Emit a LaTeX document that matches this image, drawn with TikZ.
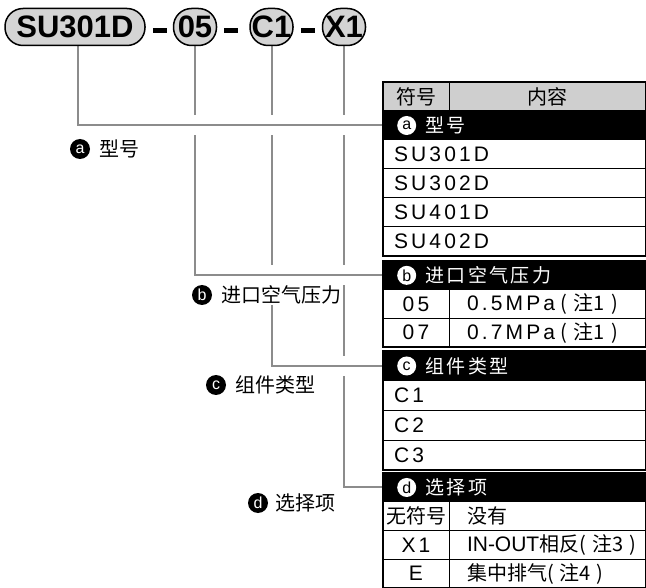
\documentclass[tikz,border=0pt]{standalone}
\usepackage{fontspec}
\setmainfont{Liberation Sans}
\newfontfamily\cjk{Noto Sans CJK SC}
\newfontfamily\cjksp[LetterSpace=12]{Noto Sans CJK SC}
\newfontfamily\latsp[LetterSpace=15]{Liberation Sans}
\newcommand{\zh}{\fontsize{20}{24}\selectfont\cjk}
\usetikzlibrary{positioning, backgrounds}
\definecolor{linegray}{HTML}{8C8C8C}
\definecolor{headgray}{HTML}{CFCFCF}
\definecolor{partgray}{HTML}{D4D4D4}
\tikzset{
  partbox/.style={rectangle, rounded corners=18pt, draw=black, line width=1.5pt, fill=partgray, minimum height=37pt, inner xsep=0pt, font=\fontsize{31}{32}\selectfont\bfseries},
  hyph/.style={line width=5pt, black},
  conn/.style={draw=linegray, line width=2pt, preaction={draw=white, line width=20pt}},
  bmark/.style={circle, fill=black, text=white, inner sep=0pt, minimum size=20pt, font=\fontsize{16}{16}\selectfont},
  wmark/.style={circle, fill=white, text=black, inner sep=0pt, minimum size=19pt, font=\fontsize{16}{16}\selectfont},
  ltext/.style={fill=white, inner xsep=2pt, inner ysep=1pt, font=\fontsize{20}{22}\selectfont\cjk},
  rowtext/.style={text=white, inner sep=0pt, font=\fontsize{19}{21}\selectfont\cjksp},
  tabcell/.style={rectangle, draw=black, line width=1pt, outer sep=0pt, inner sep=0pt, font=\fontsize{21}{24}\selectfont\latsp},
  keycell/.style={tabcell, text width=66pt, align=center},
  valcell/.style={tabcell, text width=197pt, align=left, execute at begin node=\hspace*{18pt}},
  widecell/.style={tabcell, text width=263pt, align=left, execute at begin node=\hspace*{11pt}},
  headcell/.style={tabcell, text width=197pt, align=center, fill=headgray},
  secrow/.style={tabcell, text width=263pt, fill=black},
  secframe/.style={draw=black, line width=2.4pt},
  rowA/.style={minimum height=29pt},
  rowB/.style={minimum height=28.7pt},
  rowC/.style={minimum height=29.75pt},
  rowD/.style={minimum height=28.75pt},
}
\begin{document}
\begin{tikzpicture}[x=1pt, y=-1pt]
\useasboundingbox (0,0) rectangle (646,588);

%Part number
\node (pn) [partbox, minimum width=140pt] at (75,27) {SU301D};
\node (p05) [partbox, minimum width=43pt] at (195,27) {05};
\node (pC1) [partbox, minimum width=43pt] at (271.5,27) {C1};
\node (pX1) [partbox, minimum width=43pt] at (344,27) {X1};
\draw [hyph] (pn.east) ++(7,3.5) -- ++(14,0);
\draw [hyph] (p05.east) ++(7,3.5) -- ++(14,0);
\draw [hyph] (pC1.east) ++(7,3.5) -- ++(14,0);

%Table a
\node (hk) [keycell, rowA, fill=headgray, anchor=north west] at (383,82) {\zh 符号};
\node (hv) [headcell, rowA, right=0pt of hk] {\zh 内容};
\node (ra) [secrow, rowA, below=0pt of hk.south west, anchor=north west] {};
\node (m1) [widecell, rowA, below=0pt of ra] {SU301D};
\node (m2) [widecell, rowA, below=0pt of m1] {SU302D};
\node (m3) [widecell, rowA, below=0pt of m2] {SU401D};
\node (m4) [widecell, rowA, below=0pt of m3] {SU402D};
\draw [secframe] (hk.north west) rectangle (m4.south east);

%Table b
\node (rb) [secrow, rowB, below=5pt of m4.south west, anchor=north west] {};
\node (k05) [keycell, rowB, below=0pt of rb.south west, anchor=north west] {05};
\node (v05) [valcell, rowB, right=0pt of k05] {0.5MPa\hspace{5pt}{\zh (\hspace{7pt}注1\hspace{7pt})}};
\node (k07) [keycell, rowB, below=0pt of k05] {07};
\node (v07) [valcell, rowB, right=0pt of k07] {0.7MPa\hspace{5pt}{\zh (\hspace{7pt}注1\hspace{7pt})}};
\draw [secframe] (rb.north west) rectangle (v07.south east);

%Table c
\node (rc) [secrow, rowC, below=4pt of k07.south west, anchor=north west] {};
\node (n1) [widecell, rowC, below=0pt of rc] {C1};
\node (n2) [widecell, rowC, below=0pt of n1] {C2};
\node (n3) [widecell, rowC, below=0pt of n2] {C3};
\draw [secframe] (rc.north west) rectangle (n3.south east);

%Table d
\node (rd) [secrow, rowD, below=3pt of n3.south west, anchor=north west] {};
\node (kn) [keycell, rowD, below=0pt of rd.south west, anchor=north west] {\zh 无符号};
\node (vn) [valcell, rowD, right=0pt of kn] {\zh 没有};
\node (kx) [keycell, rowD, below=0pt of kn] {X1};
\node (vx) [valcell, rowD, right=0pt of kx] {\mbox{\normalfont IN-OUT}\mbox{\zh 相反(\hspace{6pt}注3\hspace{6pt})}};
\node (ke) [keycell, rowD, below=0pt of kx] {E};
\node (ve) [valcell, rowD, right=0pt of ke] {\zh 集中排气(\hspace{6pt}注4\hspace{6pt})};
\draw [secframe] (rd.north west) rectangle (ve.south east);

%Section titles
\node (ma) [wmark, right=14pt of ra.west] {a};
\node (ta) [rowtext, right=9pt of ma] {型号};
\node (mb) [wmark, right=14pt of rb.west] {b};
\node (tb) [rowtext, right=9pt of mb] {进口空气压力};
\node (mc) [wmark, right=14pt of rc.west] {c};
\node (tc) [rowtext, right=9pt of mc] {组件类型};
\node (md) [wmark, right=14pt of rd.west] {d};
\node (td) [rowtext, right=9pt of md] {选择项};

%Labels
\node (la) [bmark] at (80,149) {a};
\node (lat) [ltext, right=7pt of la] {型号};
\node (lb) [bmark] at (202,295) {b};
\node (lbt) [ltext, right=7pt of lb] {进口空气压力};
\node (lc) [bmark] at (216,385) {c};
\node (lct) [ltext, right=7pt of lc] {组件类型};
\node (ld) [bmark] at (258,503) {d};
\node (ldt) [ltext, right=5pt of ld] {选择项};

%Part to table
\begin{scope}[on background layer]
\draw [conn] (pX1.south) |- (rd.west);
\draw [conn] (pC1.south) |- (rc.west);
\draw [conn] (p05.south) |- (rb.west);
\draw [conn] ([xshift=3pt]pn.south) |- (ra.west);
\end{scope}
\end{tikzpicture}
\end{document}
